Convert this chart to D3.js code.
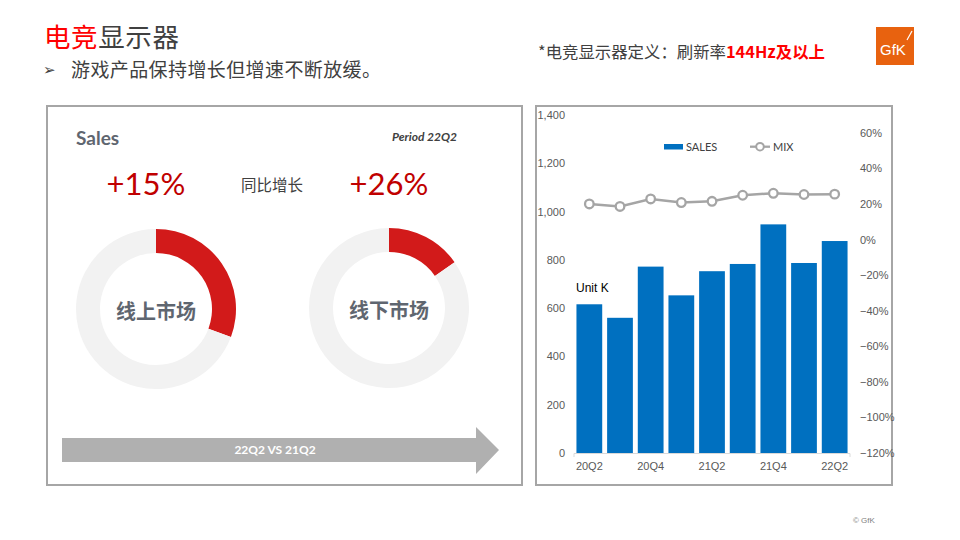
<!DOCTYPE html>
<html>
<head>
<meta charset="utf-8">
<script src="https://cdn.jsdelivr.net/npm/d3@7/dist/d3.min.js"></script>
<style>
  html, body { margin: 0; padding: 0; background: #fff; }
  svg { display: block; }
</style>
</head>
<body>
<svg id="chart" width="960" height="540"></svg>
<script>
// ---------- data ----------
const categories = ["20Q2", "20Q3", "20Q4", "21Q1", "21Q2", "21Q3", "21Q4", "22Q1", "22Q2"];
const salesValues = [616, 560, 772, 653, 753, 783, 947, 787, 878];
const mixValues = [0.200, 0.186, 0.228, 0.208, 0.215, 0.249, 0.260, 0.253, 0.255];
const leftTicks = [0, 200, 400, 600, 800, 1000, 1200, 1400];
const rightTicks = [-1.2, -1.0, -0.8, -0.6, -0.4, -0.2, 0, 0.2, 0.4, 0.6];
const shownCategoryLabels = ["20Q2", "20Q4", "21Q2", "21Q4", "22Q2"];
const donutLabels = ["线上市场", "线下市场"];
const donutShares = [0.307, 0.153];
const growthLabels = ["+15%", "+26%"];

const CJK = "'Noto Sans CJK SC', 'Noto Sans', sans-serif";
const LATO = "Lato, 'Noto Sans CJK SC', sans-serif";
const SANS = "'Liberation Sans', Arial, sans-serif";

const svg = d3.select("#chart");

// ---------- header ----------
const title = svg.append("text").attr("x", 44).attr("y", 46.5)
  .style("font-family", CJK).style("font-size", "26.5px").style("letter-spacing", "0.6px");
title.append("tspan").attr("fill", "#ff0000").text("电竞");
title.append("tspan").attr("fill", "#404040").text("显示器");

svg.append("text").attr("x", 43).attr("y", 75)
  .style("font-family", "'DejaVu Sans', sans-serif").style("font-size", "15px")
  .attr("fill", "#404040").text("➢");
svg.append("text").attr("x", 71).attr("y", 76.5)
  .style("font-family", CJK).style("font-size", "19px").style("letter-spacing", "0.4px")
  .attr("fill", "#404040").text("游戏产品保持增长但增速不断放缓。");

const note = svg.append("text").attr("x", 538).attr("y", 58)
  .style("font-family", CJK).style("font-size", "16.4px");
note.append("tspan").attr("fill", "#404040").text("*电竞显示器定义：刷新率");
note.append("tspan").attr("fill", "#ff0000").style("font-weight", "bold").text("144Hz及以上");

// GfK logo
svg.append("rect").attr("x", 876).attr("y", 27).attr("width", 38).attr("height", 38).attr("fill", "#e8620f");
svg.append("text").attr("x", 880).attr("y", 55)
  .style("font-family", SANS).style("font-size", "15px")
  .attr("fill", "#fff").text("GfK");
svg.append("line").attr("x1", 907).attr("y1", 40).attr("x2", 912).attr("y2", 31)
  .attr("stroke", "#fff").attr("stroke-width", 1.2);

svg.append("text").attr("x", 853).attr("y", 523)
  .style("font-family", SANS).style("font-size", "8px")
  .attr("fill", "#7f7f7f").text("© GfK");

// ---------- panels ----------
svg.append("rect").attr("x", 47).attr("y", 106).attr("width", 475).attr("height", 379)
  .attr("fill", "none").attr("stroke", "#a6a6a6").attr("stroke-width", 2);
svg.append("rect").attr("x", 536).attr("y", 106).attr("width", 356).attr("height", 379)
  .attr("fill", "none").attr("stroke", "#a6a6a6").attr("stroke-width", 2);

// ---------- left panel ----------
svg.append("text").attr("x", 76).attr("y", 145)
  .style("font-family", LATO).style("font-size", "19px").style("font-weight", "bold")
  .attr("fill", "#5f6670").text("Sales");
svg.append("text").attr("x", 457).attr("y", 141).attr("text-anchor", "end")
  .style("font-family", LATO).style("font-size", "12px").style("font-weight", "bold").style("font-style", "italic")
  .attr("fill", "#404040").text("Period 22Q2");

const donutCenters = [[156, 309], [389, 308]];
const growthX = [146, 389];
growthLabels.forEach((g, i) => {
  svg.append("text").attr("x", growthX[i]).attr("y", 195).attr("text-anchor", "middle")
    .style("font-family", LATO).style("font-size", "31px")
    .attr("fill", "#c00000").text(g);
});
svg.append("text").attr("x", 272).attr("y", 191).attr("text-anchor", "middle")
  .style("font-family", CJK).style("font-size", "15.5px")
  .attr("fill", "#404040").text("同比增长");

const arc = d3.arc().innerRadius(56).outerRadius(80);
donutShares.forEach((s, i) => {
  const g = svg.append("g").attr("transform", `translate(${donutCenters[i][0]},${donutCenters[i][1]})`);
  const pie = d3.pie().sort(null).value(d => d)([s, 1 - s]);
  g.selectAll("path").data(pie).join("path")
    .attr("d", arc)
    .attr("fill", (d, j) => j === 0 ? "#d21a1a" : "#f2f2f2");
  g.append("text").attr("x", 0).attr("y", 10).attr("text-anchor", "middle")
    .style("font-family", CJK).style("font-size", "20px").style("font-weight", "bold")
    .attr("fill", "#5f6670").text(donutLabels[i]);
});

// arrow
svg.append("path")
  .attr("d", "M62,438 L476,438 L476,427 L499,450 L476,474 L476,462 L62,462 Z")
  .attr("fill", "#b0b0b0");
svg.append("text").attr("x", 275).attr("y", 454).attr("text-anchor", "middle")
  .style("font-family", LATO).style("font-size", "12px").style("font-weight", "bold")
  .attr("fill", "#ffffff").text("22Q2 VS 21Q2");

// ---------- right chart ----------
const x = d3.scaleBand().domain(categories).range([574, 850]).paddingInner(0.16).paddingOuter(0.08);
const yL = d3.scaleLinear().domain([0, 1400]).range([453, 115]);
const yR = d3.scaleLinear().domain([-1.2, 0.7]).range([453, 115]);

const leftAxis = d3.axisLeft(yL).tickValues(leftTicks).tickFormat(d3.format(",")).tickSize(0).tickPadding(8);
const gL = svg.append("g").attr("transform", "translate(573,0)").call(leftAxis);
gL.select(".domain").remove();
gL.selectAll("text").style("font-family", SANS).style("font-size", "11px").attr("fill", "#595959");

const rightAxis = d3.axisRight(yR).tickValues(rightTicks).tickFormat(d3.format(".0%")).tickSize(0).tickPadding(0);
const gR = svg.append("g").attr("transform", "translate(860,0)").call(rightAxis);
gR.select(".domain").remove();
gR.selectAll("text").style("font-family", SANS).style("font-size", "11px").attr("fill", "#595959");

// bars
svg.append("g").selectAll("rect").data(categories).join("rect")
  .attr("x", d => x(d))
  .attr("y", (d, i) => yL(salesValues[i]))
  .attr("width", x.bandwidth())
  .attr("height", (d, i) => yL(0) - yL(salesValues[i]))
  .attr("fill", "#0070c0");

// x axis
const bottomAxis = d3.axisBottom(x).tickValues(shownCategoryLabels).tickSize(0).tickPadding(9);
const gB = svg.append("g").attr("transform", "translate(0,453)").call(bottomAxis);
gB.select(".domain").attr("stroke", "#d9d9d9").attr("d", "M574,4V0.5H850V4");
gB.selectAll("text").style("font-family", SANS).style("font-size", "11px").attr("fill", "#595959");

// line
const line = d3.line().x((d, i) => x(categories[i]) + x.bandwidth() / 2).y(d => yR(d));
svg.append("path").datum(mixValues).attr("d", line)
  .attr("fill", "none").attr("stroke", "#a5a5a5").attr("stroke-width", 2.5);
svg.append("g").selectAll("circle").data(mixValues).join("circle")
  .attr("cx", (d, i) => x(categories[i]) + x.bandwidth() / 2)
  .attr("cy", d => yR(d))
  .attr("r", 4.3)
  .attr("fill", "#fff").attr("stroke", "#a5a5a5").attr("stroke-width", 2.3);

// legend
svg.append("rect").attr("x", 664).attr("y", 144).attr("width", 19).attr("height", 5.5).attr("fill", "#0070c0");
svg.append("text").attr("x", 686).attr("y", 151)
  .style("font-family", LATO).style("font-size", "11px").attr("fill", "#404040").text("SALES");
svg.append("line").attr("x1", 750).attr("y1", 146.7).attr("x2", 770).attr("y2", 146.7)
  .attr("stroke", "#a5a5a5").attr("stroke-width", 2.3);
svg.append("circle").attr("cx", 760).attr("cy", 146.7).attr("r", 3.8)
  .attr("fill", "#fff").attr("stroke", "#a5a5a5").attr("stroke-width", 2);
svg.append("text").attr("x", 773).attr("y", 151)
  .style("font-family", LATO).style("font-size", "11px").attr("fill", "#404040").text("MIX");

svg.append("text").attr("x", 576).attr("y", 292)
  .style("font-family", SANS).style("font-size", "12px").attr("fill", "#000").text("Unit K");
</script>
</body>
</html>
